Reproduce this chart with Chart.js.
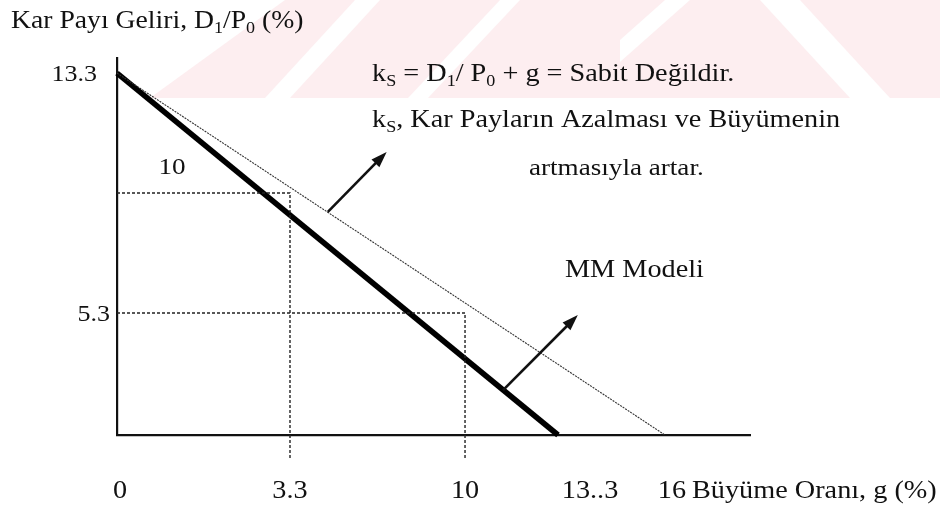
<!DOCTYPE html>
<html>
<head>
<meta charset="utf-8">
<script src="https://cdn.jsdelivr.net/npm/chart.js@4.4.1/dist/chart.umd.min.js"></script>
<style>
  html, body { margin: 0; background: #fff; }
  canvas { display: block; }
</style>
</head>
<body>
<canvas id="grafik" width="940" height="518"></canvas>
<script>
// eksen degerleri ve etiketleri
const gDegerleri = [0, 3.3, 10, 13.3, 16];
const gEtiketleri = ['0', '3.3', '10', '13..3', '16'];
const kpDegerleri = [13.3, 10, 5.3];
const kpEtiketleri = ['13.3', '10', '5.3'];

// MM modeli (kalin cizgi): ks sabit
const mmG = [0, 13.3];
const mmKP = [13.3, 0];
// ks sabit degil (ince cizgi)
const degiskenG = [0, 16];
const degiskenKP = [13.3, 0];

// kesikli yardimci cizgiler
const kilavuz1G = [0, 3.3, 3.3];
const kilavuz1KP = [10, 10, -1];
const kilavuz2G = [0, 10, 10];
const kilavuz2KP = [5.3, 5.3, -1];

// oklar (baslangic -> uc)
const okBasG = [4.75, 11.35];
const okBasKP = [9.26, 1.95];
const okUcG = [7.0, 13.8];
const okUcKP = [11.13, 5.21];

const noktalar = (xs, ys) => xs.map((x, i) => ({ x: x, y: ys[i] }));

// sekildeki eksenler dogrusal degil, parca parca dogrusal olcek
class ParcaliOlcek extends Chart.LinearScale {
  static id = 'parcali';
  static defaults = {};
  _oran(v) {
    const d = this.options.duraklar;
    let i = 1;
    while (i < d.length - 1 && v > d[i][0]) i++;
    const a = d[i - 1], b = d[i];
    return a[1] + (v - a[0]) * (b[1] - a[1]) / (b[0] - a[0]);
  }
  getPixelForValue(v) {
    return this.getPixelForDecimal(this._oran(v));
  }
  getValueForPixel(p) {
    const r = this.getDecimalForPixel(p);
    const d = this.options.duraklar;
    let i = 1;
    while (i < d.length - 1 && r > d[i][1]) i++;
    const a = d[i - 1], b = d[i];
    return a[0] + (r - a[1]) * (b[0] - a[0]) / (b[1] - a[1]);
  }
}
Chart.register(ParcaliOlcek);

const YAZI = '"Liberation Serif", serif';
const SX = 1.13;

// '_' ile baslayan parca alt simge
function yaz(ctx, parcalar, x, y, hiza, boy) {
  boy = boy || 25;
  const fontu = p => (p.startsWith('_') ? '16px ' : boy + 'px ') + YAZI;
  let w = 0;
  parcalar.forEach(p => {
    ctx.font = fontu(p);
    w += ctx.measureText(p.replace(/^_/, '')).width;
  });
  ctx.save();
  ctx.translate(x, y);
  ctx.scale(SX, 1);
  ctx.fillStyle = '#111';
  ctx.textBaseline = 'alphabetic';
  ctx.textAlign = 'left';
  let cx = hiza === 'center' ? -w / 2 : hiza === 'right' ? -w : 0;
  parcalar.forEach(p => {
    const alt = p.startsWith('_');
    const t = alt ? p.slice(1) : p;
    ctx.font = fontu(p);
    ctx.fillText(t, cx, alt ? 5 : 0);
    cx += ctx.measureText(t).width;
  });
  ctx.restore();
}

const arkaPlan = {
  id: 'arkaPlan',
  beforeDraw(chart) {
    const ctx = chart.ctx;
    ctx.save();
    ctx.fillStyle = '#fdeef0';
    ctx.fillRect(0, 0, 940, 98);
    ctx.fillStyle = '#fff';
    const dortgen = (p) => {
      ctx.beginPath();
      ctx.moveTo(p[0], p[1]);
      for (let i = 2; i < p.length; i += 2) ctx.lineTo(p[i], p[i + 1]);
      ctx.closePath();
      ctx.fill();
    };
    dortgen([0, 0, 285, 0, 150, 98, 0, 98]);
    dortgen([355, 0, 380, 0, 290, 98, 265, 98]);
    dortgen([500, 0, 520, 0, 428, 98, 408, 98]);
    dortgen([760, 0, 800, 0, 890, 98, 850, 98]);
    dortgen([620, 40, 665, 0, 690, 0, 620, 62]);
    ctx.restore();
  }
};

const yazilar = {
  id: 'yazilar',
  afterDatasetsDraw(chart) {
    const ctx = chart.ctx;
    const x = chart.scales.x, y = chart.scales.y;

    // oklar
    okBasG.forEach((g, i) => {
      const x1 = x.getPixelForValue(g), y1 = y.getPixelForValue(okBasKP[i]);
      const x2 = x.getPixelForValue(okUcG[i]), y2 = y.getPixelForValue(okUcKP[i]);
      const a = Math.atan2(y2 - y1, x2 - x1);
      ctx.save();
      ctx.strokeStyle = '#111';
      ctx.fillStyle = '#111';
      ctx.lineWidth = 2.6;
      ctx.beginPath();
      ctx.moveTo(x1, y1);
      ctx.lineTo(x2 - 8 * Math.cos(a), y2 - 8 * Math.sin(a));
      ctx.stroke();
      ctx.beginPath();
      ctx.moveTo(x2, y2);
      ctx.lineTo(x2 - 16 * Math.cos(a) + 5.5 * Math.sin(a), y2 - 16 * Math.sin(a) - 5.5 * Math.cos(a));
      ctx.lineTo(x2 - 16 * Math.cos(a) - 5.5 * Math.sin(a), y2 - 16 * Math.sin(a) + 5.5 * Math.cos(a));
      ctx.closePath();
      ctx.fill();
      ctx.restore();
    });

    // x ekseni etiketleri (taramadaki kaymalarla)
    const xKayma = [3, 0, 0, 32, 7];
    gDegerleri.forEach((g, i) => {
      yaz(ctx, [gEtiketleri[i]], x.getPixelForValue(g) + xKayma[i], 498, 'center');
    });
    yaz(ctx, ['Büyüme Oranı, g (%)'], 692, 498, 'left');

    // y ekseni etiketleri
    yaz(ctx, [kpEtiketleri[0]], 97, y.getPixelForValue(kpDegerleri[0]) + 8, 'right', 23);
    yaz(ctx, [kpEtiketleri[1]], 172, y.getPixelForValue(kpDegerleri[1]) - 19, 'center', 24);
    yaz(ctx, [kpEtiketleri[2]], 110, y.getPixelForValue(kpDegerleri[2]) + 8, 'right', 23);

    yaz(ctx, ['Kar Payı Geliri, D', '_1', '/P', '_0', ' (%)'], 11, 28, 'left', 24.5);
    yaz(ctx, ['k', '_S', ' = D', '_1', '/ P', '_0', ' + g = Sabit Değildir.'], 372, 81, 'left');
    yaz(ctx, ['k', '_S', ', Kar Payların Azalması ve Büyümenin'], 372, 127, 'left');
    yaz(ctx, ['artmasıyla artar.'], 529, 175, 'left', 24);
    yaz(ctx, ['MM Modeli'], 565, 277, 'left');
  }
};

const kesikli = {
  borderColor: '#222',
  borderWidth: 1.4,
  borderDash: [3, 2],
  pointRadius: 0,
  clip: false
};

new Chart(document.getElementById('grafik'), {
  type: 'line',
  data: {
    datasets: [
      Object.assign({ data: noktalar(kilavuz1G, kilavuz1KP) }, kesikli),
      Object.assign({ data: noktalar(kilavuz2G, kilavuz2KP) }, kesikli),
      {
        data: noktalar(degiskenG, degiskenKP),
        borderColor: '#333',
        borderWidth: 1.1,
        borderDash: [2, 1],
        pointRadius: 0,
        clip: false
      },
      {
        data: noktalar(mmG, mmKP),
        borderColor: '#000',
        borderWidth: 5.5,
        pointRadius: 0,
        clip: false
      }
    ]
  },
  options: {
    responsive: false,
    animation: false,
    layout: { padding: { left: 117, right: 190, top: 58, bottom: 83 } },
    plugins: {
      legend: { display: false },
      tooltip: { enabled: false }
    },
    scales: {
      x: {
        type: 'parcali',
        min: 0,
        max: 18,
        duraklar: [[0, 0], [3.3, 0.2733], [10, 0.5498], [13.3, 0.6967], [16, 0.8657], [18, 1]],
        grid: { display: false, drawTicks: false },
        ticks: { display: false },
        border: { color: '#111', width: 2.2 }
      },
      y: {
        type: 'parcali',
        min: 0,
        max: 14,
        duraklar: [[0, 0], [5.3, 0.3236], [10, 0.642], [13.3, 0.960], [14, 1]],
        grid: { display: false, drawTicks: false },
        ticks: { display: false },
        border: { color: '#111', width: 2.2 }
      }
    }
  },
  plugins: [arkaPlan, yazilar]
});
</script>
</body>
</html>
